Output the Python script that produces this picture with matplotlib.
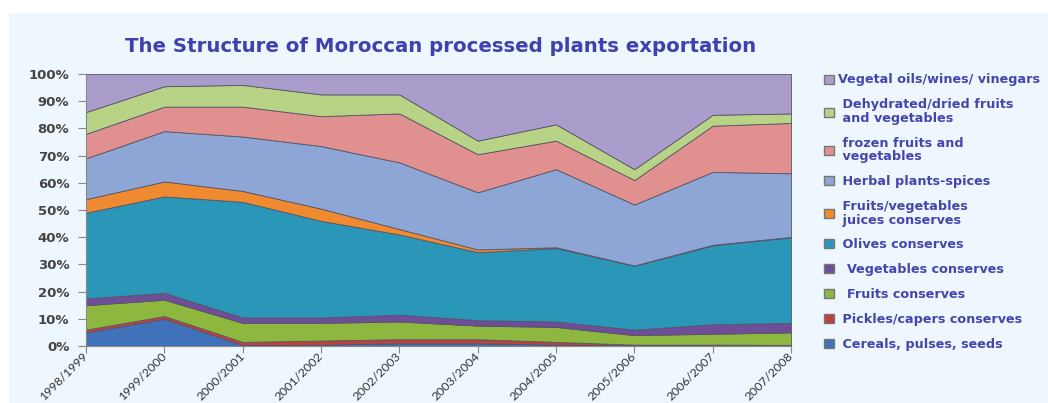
import numpy as np
import matplotlib.pyplot as plt
from matplotlib.patches import Rectangle, Patch

years = ["1998/1999", "1999/2000", "2000/2001", "2001/2002", "2002/2003",
         "2003/2004", "2004/2005", "2005/2006", "2006/2007", "2007/2008"]

# shares (%) per category, bottom to top of the stack
cereals = [5, 10, 0.3, 0.5, 1, 1, 0.5, 0.2, 0.2, 0.2]
pickles = [1, 1, 1.2, 1.5, 1.5, 1.5, 1, 0.3, 0.3, 0.2]
fruits_cons = [9, 6, 7, 6.5, 6.5, 5, 5.5, 3.5, 4, 4.6]
veg_cons = [2.5, 2.5, 2, 2, 2.5, 2, 2, 2, 3.5, 3.5]
olives = [31.5, 35.5, 42.5, 35.5, 29.5, 25, 27, 23.5, 29, 31.5]
juices = [5, 5.5, 4, 4.5, 2, 1, 0.3, 0.1, 0.2, 0.1]
herbal = [15, 18.5, 20, 23, 24.5, 21, 28.7, 22.4, 26.8, 23.4]
frozen = [9, 9, 11, 11, 18, 14, 10.5, 9, 17, 18.5]
dried = [8, 7.5, 8, 8, 7, 5, 6, 4, 4, 3.5]
oils = [14, 4.5, 4, 7.5, 7.5, 24.5, 18.5, 35, 15, 14.5]

series = [cereals, pickles, fruits_cons, veg_cons, olives, juices, herbal, frozen, dried, oils]
labels = [" Cereals, pulses, seeds", " Pickles/capers conserves", "  Fruits conserves",
          "  Vegetables conserves", " Olives conserves", " Fruits/vegetables\n juices conserves",
          " Herbal plants-spices", " frozen fruits and\n vegetables",
          " Dehydrated/dried fruits\n and vegetables", "Vegetal oils/wines/ vinegars"]
colors = ["#3f72b8", "#c0403d", "#8db73e", "#6e4e98", "#2a97b8", "#f08a30",
          "#8ea6d6", "#e0908e", "#b9d386", "#ab9dcb"]

fig = plt.figure(figsize=(10.48, 4.03), dpi=100)
fig.patch.set_facecolor("white")
fig.patches.append(Rectangle((9 / 1048, 0), 1, 1 - 13 / 403, transform=fig.transFigure,
                             facecolor="#eef7fd", edgecolor="none", zorder=-10))

ax = fig.add_axes([86 / 1048, 1 - 346 / 403, 705 / 1048, 272 / 403])
ax.set_facecolor("#eef7fd")
x = np.arange(len(years))
polys = ax.stackplot(x, *series, colors=colors, edgecolor="#555566", linewidth=0.6)

ax.set_xlim(0, len(years) - 1)
ax.set_ylim(0, 100)
ax.set_yticks(range(0, 101, 10))
ax.set_yticklabels([f"{v}%" for v in range(0, 101, 10)], fontsize=9.5,
                   fontweight="bold", color="#444444")
ax.set_xticks(x)
ax.set_xticklabels(years, rotation=45, ha="right", va="center", rotation_mode="anchor",
                   fontsize=8.8, color="#333333", family="Lato")
ax.tick_params(axis="y", length=6, color="#888888", pad=6)
ax.tick_params(axis="x", length=5, color="#888888", pad=1)
for s in ["top", "right"]:
    ax.spines[s].set_visible(False)
ax.spines["left"].set_color("#888888")
ax.spines["bottom"].set_color("#888888")

fig.text(0.42, 1 - 47 / 403, "The Structure of Moroccan processed plants exportation",
         ha="center", va="center", fontsize=14.2, fontweight="bold", color="#4040b0",
         family="DejaVu Sans")

handles = [Patch(facecolor=c, edgecolor="#777777") for c in colors]
leg = fig.legend(handles[::-1], labels[::-1], loc="upper left",
                 bbox_to_anchor=(812 / 1048, 1 - 62 / 403), frameon=False,
                 handlelength=0.8, handleheight=0.7, handletextpad=0.35,
                 labelspacing=0.93, prop={"family": "DejaVu Sans", "weight": "bold", "size": 9.2})
for t in leg.get_texts():
    t.set_color("#4545b0")
    t.set_linespacing(1.05)

fig.savefig("out.png", dpi=100)
